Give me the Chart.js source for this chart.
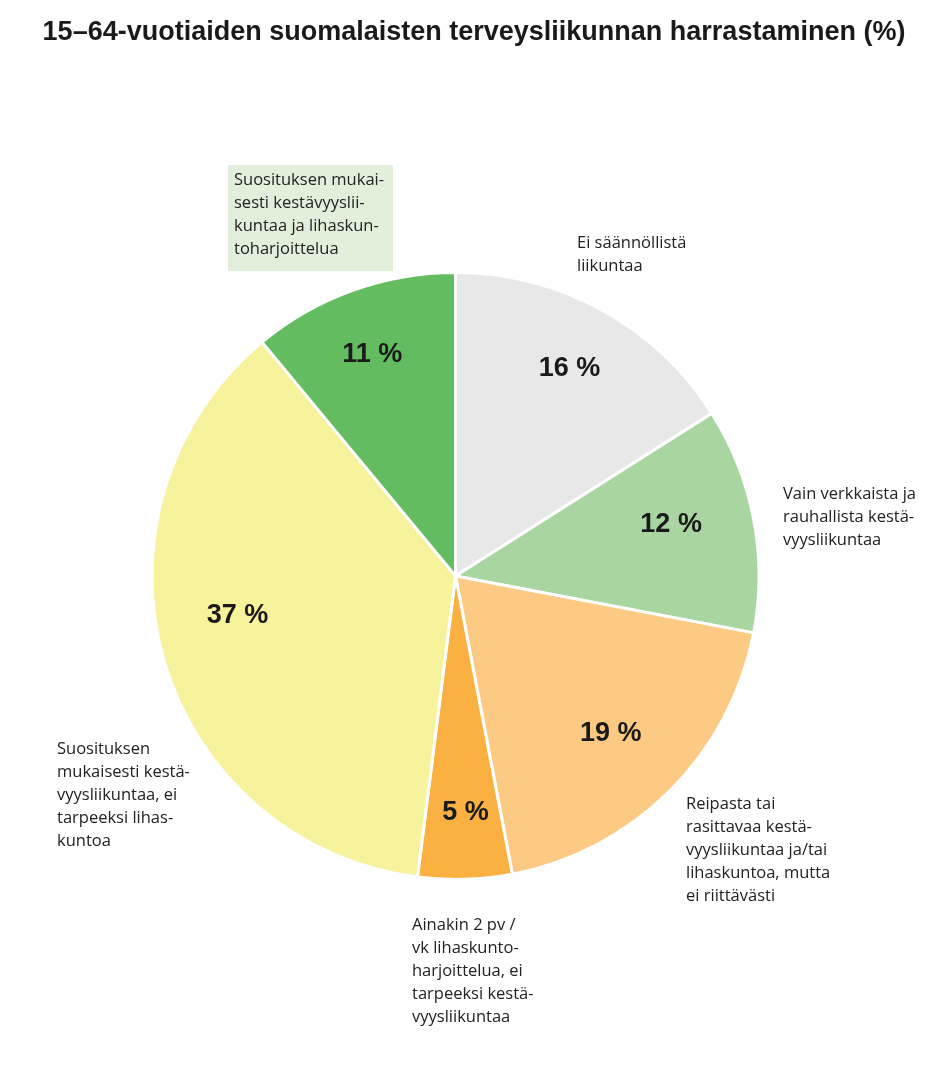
<!DOCTYPE html>
<html>
<head>
<meta charset="utf-8">
<script src="https://cdn.jsdelivr.net/npm/chart.js@4.4.0/dist/chart.umd.min.js"></script>
<style>
  html, body { margin: 0; padding: 0; background: #fff; }
  #wrap { width: 935px; height: 1073px; position: relative; }
</style>
</head>
<body>
<div id="wrap"><canvas id="pie"></canvas></div>
<script>
const title = '15–64-vuotiaiden suomalaisten terveysliikunnan harrastaminen (%)';

const categories = [
  ['Ei säännöllistä', 'liikuntaa'],
  ['Vain verkkaista ja', 'rauhallista kestä-', 'vyysliikuntaa'],
  ['Reipasta tai', 'rasittavaa kestä-', 'vyysliikuntaa ja/tai', 'lihaskuntoa, mutta', 'ei riittävästi'],
  ['Ainakin 2 pv /', 'vk lihaskunto-', 'harjoittelua, ei', 'tarpeeksi kestä-', 'vyysliikuntaa'],
  ['Suosituksen', 'mukaisesti kestä-', 'vyysliikuntaa, ei', 'tarpeeksi lihas-', 'kuntoa'],
  ['Suosituksen mukai-', 'sesti kestävyyslii-', 'kuntaa ja lihaskun-', 'toharjoittelua']
];
const values = [16, 12, 19, 5, 37, 11];
const colors = ['#e8e8e9', '#a9d5a0', '#fdca83', '#fbb142', '#f7f39d', '#63bd60'];

// label placement (style only)
const pctRadius = [0.78, 0.73, 0.73, 0.78, 0.73, 0.78];
const pctAngleShift = [0, -2.5, 0.5, -0.6, 6, -0.8];
const outerLabelPos = [[577, 243], [783, 494], [686, 804], [412, 925], [57, 749], [234, 180]];
const lineH = 23;

const labelPlugin = {
  id: 'labels',
  afterDatasetsDraw(chart) {
    const ctx = chart.ctx;
    const meta = chart.getDatasetMeta(0);
    ctx.save();
    // title
    ctx.fillStyle = '#1a1a1a';
    ctx.font = 'bold 27px "Liberation Sans", Arial, sans-serif';
    ctx.textAlign = 'center';
    ctx.textBaseline = 'middle';
    ctx.fillText(title, 474, 33);

    // percent labels inside slices
    ctx.font = 'bold 27px "Liberation Sans", Arial, sans-serif';
    meta.data.forEach((arc, i) => {
      const mid = (arc.startAngle + arc.endAngle) / 2 + pctAngleShift[i] * Math.PI / 180;
      const r = arc.outerRadius * pctRadius[i];
      ctx.fillText(values[i] + ' %', arc.x + Math.cos(mid) * r, arc.y + Math.sin(mid) * r);
    });

    // outside labels
    ctx.textAlign = 'left';
    ctx.font = '16.5px "Open Sans", "Noto Sans", sans-serif';
    categories.forEach((lines, i) => {
      const [x, y] = outerLabelPos[i];
      if (i === 5) {
        ctx.fillStyle = '#e2f0db';
        ctx.fillRect(x - 6, y - 15, 165, lineH * lines.length + 14);
      }
      ctx.fillStyle = '#222';
      lines.forEach((t, j) => ctx.fillText(t, x, y + j * lineH));
    });
    ctx.restore();
  }
};

new Chart(document.getElementById('pie'), {
  type: 'pie',
  data: {
    labels: categories.map(l => l.join(' ')),
    datasets: [{
      data: values,
      backgroundColor: colors,
      borderColor: '#ffffff',
      borderWidth: 3
    }]
  },
  options: {
    responsive: true,
    maintainAspectRatio: false,
    animation: false,
    layout: { padding: { left: 150, right: 174, top: 271, bottom: 192 } },
    plugins: {
      legend: { display: false },
      tooltip: { enabled: false }
    }
  },
  plugins: [labelPlugin]
});
</script>
</body>
</html>
